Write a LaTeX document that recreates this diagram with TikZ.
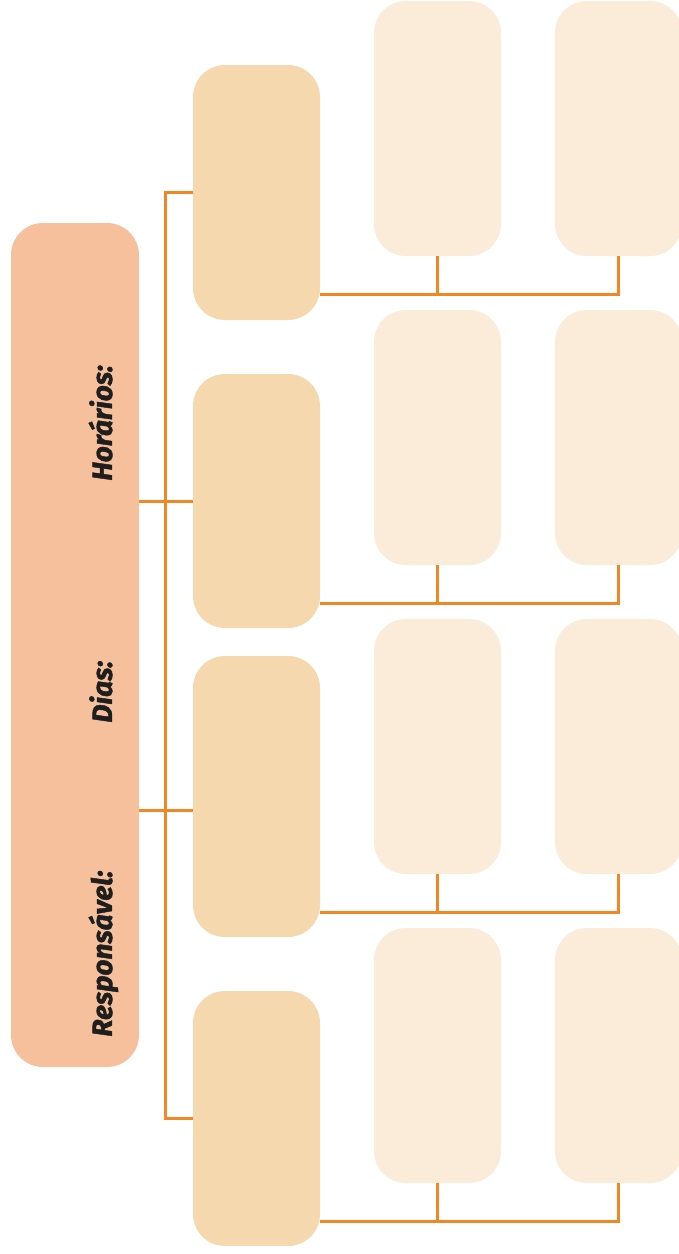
\documentclass[tikz,border=0pt]{standalone}
\usepackage{fontspec}
\setsansfont{Fira Sans}[BoldItalicFeatures={FakeBold=1.6}]
\definecolor{boxmain}{RGB}{245,192,155}
\definecolor{boxmid}{RGB}{246,216,174}
\definecolor{boxlight}{RGB}{251,235,217}
\definecolor{conn}{RGB}{240,134,36}
\definecolor{ink}{RGB}{30,30,30}
\begin{document}
\begin{tikzpicture}[x=0.5pt, y=-0.5pt,
    main/.style={rectangle, rounded corners=16pt, fill=boxmain,
              minimum width=64pt, minimum height=422pt, inner sep=0pt},
    mid/.style={rectangle, rounded corners=16pt, fill=boxmid,
              minimum width=63.5pt, inner sep=0pt},
    light/.style={rectangle, rounded corners=16pt, fill=boxlight,
              minimum width=63.5pt, minimum height=127.5pt, inner sep=0pt},
    lbl/.style={font=\sffamily\bfseries\itshape\fontsize{14}{16}\selectfont,
              color=ink, rotate=90, anchor=base west, inner sep=0pt},
    link/.style={draw=conn, line width=1.5pt}]
  \useasboundingbox (0,0) rectangle (679,1254);

  % ---------- left column: the card with its labels ------------------------
  \node[main] (card) at (75,645) {};
  \node[lbl] (hor) at (112,481)  {Horários:};
  \node[lbl] (dia) at (112,723)  {Dias:};
  \node[lbl] (res) at (112,1037) {Responsável:};

  % ---------- second column ------------------------------------------------
  \node[mid, minimum height=127.5pt] (b1) at (256.5,192.5)  {};
  \node[mid, minimum height=127pt]   (b2) at (256.5,501)    {};
  \node[mid, minimum height=140.5pt] (b3) at (256.5,796.5)  {};
  \node[mid, minimum height=127.5pt] (b4) at (256.5,1118.5) {};

  % ---------- third and fourth columns -------------------------------------
  \foreach \i/\y in {1/128.5,2/437.5,3/746.5,4/1055.5} {
    \node[light] (c\i) at (437.5,\y) {};
    \node[light] (d\i) at (618.5,\y) {};
  }

  % ---------- links from the card ------------------------------------------
  \coordinate (trunk) at (165,0);
  \coordinate (k3) at (165,810);
  \draw[link] (b1.west) -- (b1.west -| trunk) -- (b4.west -| trunk) -- (b4.west);
  \draw[link] (card.east |- b2.west) -- (b2.west);
  \draw[link] (card.east |- k3) -- (b3.west |- k3);

  % ---------- links to the right columns -----------------------------------
  \foreach \i/\y in {1/294,2/603,3/912,4/1221} {
    \coordinate (j\i) at (437.5,\y);
    \draw[link] (b\i.east |- j\i) -- (j\i) -| (d\i.south);
    \draw[link] (c\i.south) -- (j\i);
  }
\end{tikzpicture}
\end{document}
